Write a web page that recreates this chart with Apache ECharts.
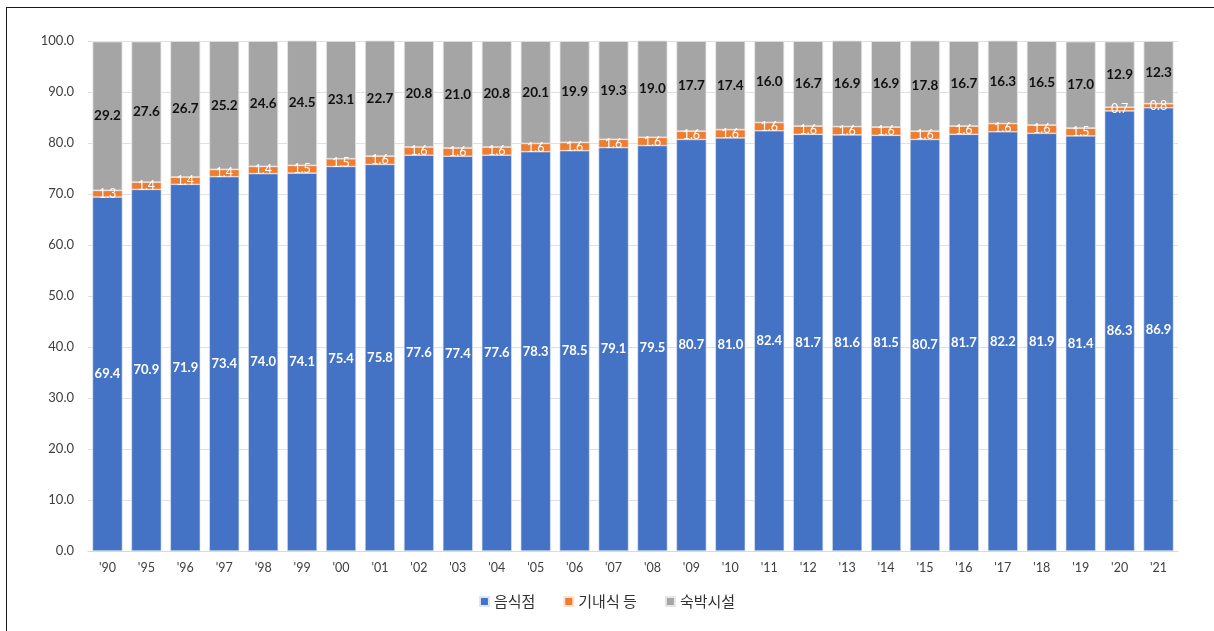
<!DOCTYPE html>
<html>
<head>
<meta charset="utf-8">
<script src="https://cdn.jsdelivr.net/npm/echarts@6/dist/echarts.min.js"></script>
<style>
  html, body { margin: 0; padding: 0; background: #fff; }
  #frame { position: absolute; left: 6px; top: 7px; width: 1214px; height: 640px;
           border-left: 1.5px solid #1a1a1a; border-top: 1.5px solid #1a1a1a; }
  #chart { position: absolute; left: 0; top: 0; width: 1214px; height: 631px; }
</style>
</head>
<body>
<div id="frame"></div>
<div id="chart"></div>
<script>
const years = ["'90","'95","'96","'97","'98","'99","'00","'01","'02","'03","'04","'05","'06","'07",
               "'08","'09","'10","'11","'12","'13","'14","'15","'16","'17","'18","'19","'20","'21"];
const restaurants = [69.4,70.9,71.9,73.4,74.0,74.1,75.4,75.8,77.6,77.4,77.6,78.3,78.5,79.1,
                     79.5,80.7,81.0,82.4,81.7,81.6,81.5,80.7,81.7,82.2,81.9,81.4,86.3,86.9];
const inflight = [1.3,1.4,1.4,1.4,1.4,1.5,1.5,1.6,1.6,1.6,1.6,1.6,1.6,1.6,
                  1.6,1.6,1.6,1.6,1.6,1.6,1.6,1.6,1.6,1.6,1.6,1.5,0.7,0.8];
const lodging = [29.2,27.6,26.7,25.2,24.6,24.5,23.1,22.7,20.8,21.0,20.8,20.1,19.9,19.3,
                 19.0,17.7,17.4,16.0,16.7,16.9,16.9,17.8,16.7,16.3,16.5,17.0,12.9,12.3];
const seriesNames = ['음식점', '기내식 등', '숙박시설'];
const yTicks = { min: 0, max: 100, interval: 10 };

const numFont = 'Lato, "Noto Sans CJK KR", sans-serif';
const krFont = '"Noto Sans CJK KR", sans-serif';

function fmt(p) { return p.value.toFixed(1); }

const chart = echarts.init(document.getElementById('chart'), null, { renderer: 'canvas' });
chart.setOption({
  animation: false,
  grid: { left: 88, right: 36, top: 41, bottom: 80, containLabel: false },
  legend: {
    bottom: 17, left: 'center',
    itemWidth: 9, itemHeight: 9, itemGap: 28,
    icon: 'rect',
    textStyle: { fontFamily: krFont, fontSize: 15, color: '#333' },
    data: seriesNames
  },
  xAxis: {
    type: 'category', data: years,
    axisLine: { lineStyle: { color: '#d9d9d9', width: 1 } },
    axisTick: { show: false },
    axisLabel: { color: '#404040', fontFamily: numFont, fontSize: 12.5, margin: 11 }
  },
  yAxis: {
    type: 'value', min: yTicks.min, max: yTicks.max, interval: yTicks.interval,
    axisLine: { show: false }, axisTick: { show: false },
    splitLine: { lineStyle: { color: '#e0e0e0', width: 1 } },
    axisLabel: { color: '#404040', fontFamily: numFont, fontSize: 13, margin: 14,
                 formatter: v => v.toFixed(1) }
  },
  series: [
    {
      name: seriesNames[0], type: 'bar', stack: 'total', data: restaurants,
      barWidth: '77%',
      itemStyle: { color: '#4472C4', borderColor: '#dfe6f3', borderWidth: 0.6 },
      label: { show: true, position: 'inside', formatter: fmt, color: '#fff',
               fontFamily: numFont, fontWeight: 'bold', fontSize: 13 }
    },
    {
      name: seriesNames[1], type: 'bar', stack: 'total', data: inflight,
      itemStyle: { color: '#ED7D31', borderColor: '#f6e3d6', borderWidth: 0.6 },
      label: { show: true, position: 'inside', formatter: fmt, color: '#fff',
               fontFamily: numFont, fontSize: 12.5 }
    },
    {
      name: seriesNames[2], type: 'bar', stack: 'total', data: lodging,
      itemStyle: { color: '#A5A5A5', borderColor: '#e6e6e6', borderWidth: 0.8 },
      label: { show: true, position: 'inside', formatter: fmt, color: '#111',
               fontFamily: numFont, fontWeight: 'bold', fontSize: 13.5 }
    }
  ]
});
</script>
</body>
</html>
